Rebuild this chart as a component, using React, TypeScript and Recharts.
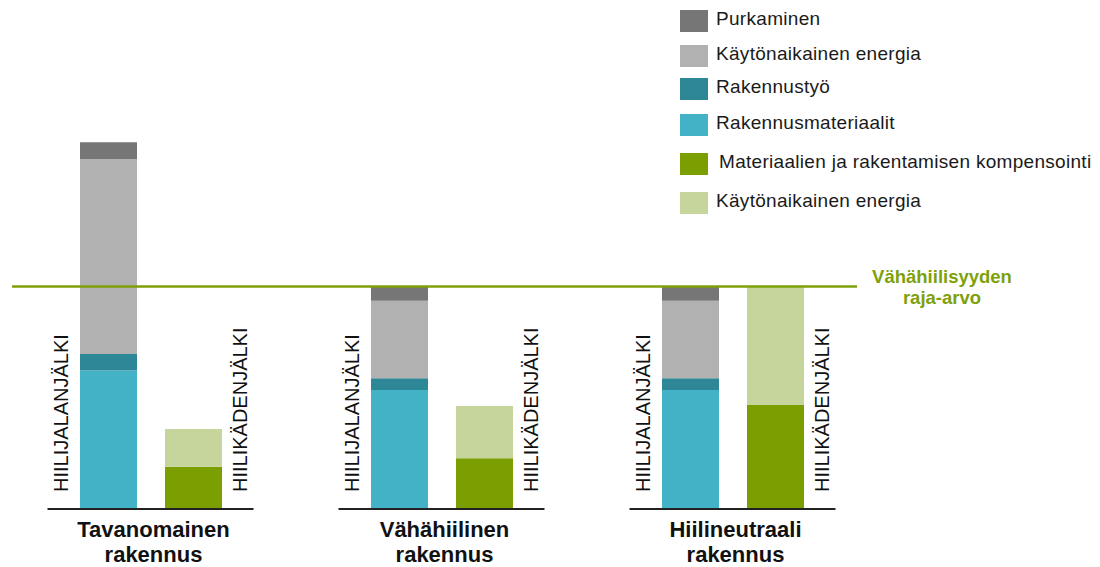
import { Bar, BarChart, LabelList, Legend, ReferenceLine, XAxis, YAxis } from 'recharts'

// categories (one per building type)
const categories = ['Tavanomainen rakennus', 'Vähähiilinen rakennus', 'Hiilineutraali rakennus']

// carbon footprint parts, units where the low-carbon limit = 100
const rakennusmateriaalit = [62.2, 53.5, 53.5]
const rakennustyo = [7.5, 5.3, 5.3]
const kaytonaikainenEnergia = [87.6, 34.8, 34.8]
const purkaminen = [7.5, 6.4, 6.4]

// carbon handprint parts
const kompensointi = [19, 22.8, 46.7]
const kaytonaikainenEnergiaKasi = [17, 23.5, 53.3]

const limitValue = 100
const limitLabel = ['Vähähiilisyyden', 'raja-arvo']
const footprintTag = 'HIILIJALANJÄLKI'
const handprintTag = 'HIILIKÄDENJÄLKI'

const footSeries = [
  { key: 'materiaalit', name: 'Rakennusmateriaalit', color: '#43b1c6', values: rakennusmateriaalit },
  { key: 'tyo', name: 'Rakennustyö', color: '#2e8797', values: rakennustyo },
  { key: 'energia', name: 'Käytönaikainen energia', color: '#b1b1b1', values: kaytonaikainenEnergia },
  { key: 'purku', name: 'Purkaminen', color: '#767676', values: purkaminen },
]
const handSeries = [
  { key: 'kompensointi', name: 'Materiaalien ja rakentamisen kompensointi', color: '#7b9f00', values: kompensointi },
  { key: 'energiaKasi', name: 'Käytönaikainen energia', color: '#c5d59c', values: kaytonaikainenEnergiaKasi },
]
const legendItems = [...footSeries].reverse().concat(handSeries)

const data = categories.map((name, i) => {
  const row: Record<string, string | number> = { name }
  footSeries.concat(handSeries).forEach((s) => (row[s.key] = s.values[i]))
  return row
})

const FONT = '"Liberation Sans", Arial, sans-serif'
const LIMIT_GREEN = '#7ea10a'

function CategoryTick(props: any) {
  const { x, y, payload } = props
  const [line1, line2] = String(payload.value).split(' ')
  return (
    <g>
      <line x1={x - 103} x2={x + 103} y1={y} y2={y} stroke="#222" strokeWidth={2} />
      <text x={x + 3} y={y + 28} textAnchor="middle" fontSize={22} fontWeight="bold" fill="#111">
        {line1}
      </text>
      <text x={x + 3} y={y + 53} textAnchor="middle" fontSize={22} fontWeight="bold" fill="#111">
        {line2}
      </text>
    </g>
  )
}

function FootprintTag(props: any) {
  const vb = props.viewBox ?? props
  const tx = Number(vb.x) - 12
  const ty = Number(vb.y) + Number(vb.height) - 17
  return (
    <text x={tx} y={ty} transform={`rotate(-90 ${tx} ${ty})`} fontSize={20} fill="#111">
      {footprintTag}
    </text>
  )
}

function HandprintTag(props: any) {
  const vb = props.viewBox ?? props
  const tx = Number(vb.x) + Number(vb.width) + 25
  const ty = Number(vb.y) + Number(vb.height) - 17
  return (
    <text x={tx} y={ty} transform={`rotate(-90 ${tx} ${ty})`} fontSize={20} fill="#111">
      {handprintTag}
    </text>
  )
}

function LimitLine(props: any) {
  const left = Math.min(props.x1, props.x2)
  const right = Math.max(props.x1, props.x2)
  const y = props.y1
  return (
    <g>
      <line x1={left + 7} x2={right - 21} y1={y} y2={y} stroke={LIMIT_GREEN} strokeWidth={2.5} />
      <text x={right + 64} y={y - 4} textAnchor="middle" fontSize={18.5} fontWeight="bold" fill={LIMIT_GREEN}>
        {limitLabel[0]}
      </text>
      <text x={right + 64} y={y + 17} textAnchor="middle" fontSize={18.5} fontWeight="bold" fill={LIMIT_GREEN}>
        {limitLabel[1]}
      </text>
    </g>
  )
}

const legendRowTop = [10, 45, 78, 114, 153, 192]

function LegendBox() {
  return (
    <div style={{ position: 'relative', width: 428, height: 230, fontFamily: FONT }}>
      {legendItems.map((item, i) => (
        <div key={item.key} style={{ position: 'absolute', left: 8, top: legendRowTop[i], height: 22 }}>
          <div style={{ position: 'absolute', left: 0, top: 0, width: 28, height: 22, background: item.color }} />
          <div
            style={{
              position: 'absolute',
              left: item.key === 'kompensointi' ? 39 : 36,
              top: -2,
              fontSize: 19,
              letterSpacing: 0.3,
              lineHeight: '22px',
              color: '#1a1a1a',
              whiteSpace: 'nowrap',
            }}
          >
            {item.name}
          </div>
        </div>
      ))}
    </div>
  )
}

export default function App() {
  return (
    <div style={{ position: 'absolute', left: 0, top: 0, width: 1100, height: 567, background: '#fff', fontFamily: FONT }}>
      <BarChart
        width={1100}
        height={567}
        data={data}
        margin={{ top: 64, right: 222, left: 5, bottom: 0 }}
        barSize={57}
        barGap={28}
      >
        <XAxis
          dataKey="name"
          height={58}
          axisLine={false}
          tickLine={false}
          tickSize={0}
          tickMargin={0}
          interval={0}
          tick={<CategoryTick />}
        />
        <YAxis hide domain={[0, 200]} />
        <Legend
          layout="horizontal"
          verticalAlign="middle"
          align="center"
          wrapperStyle={{ top: 0, left: 672, width: 428, height: 230 }}
          content={<LegendBox />}
        />
        {footSeries.map((s, i) => (
          <Bar key={s.key} dataKey={s.key} name={s.name} stackId="foot" fill={s.color} isAnimationActive={false}>
            {i === 0 && <LabelList dataKey={s.key} content={<FootprintTag />} />}
          </Bar>
        ))}
        {handSeries.map((s, i) => (
          <Bar key={s.key} dataKey={s.key} name={s.name} stackId="hand" fill={s.color} isAnimationActive={false}>
            {i === 0 && <LabelList dataKey={s.key} content={<HandprintTag />} />}
          </Bar>
        ))}
        <ReferenceLine y={limitValue} shape={<LimitLine />} ifOverflow="visible" />
      </BarChart>
    </div>
  )
}
